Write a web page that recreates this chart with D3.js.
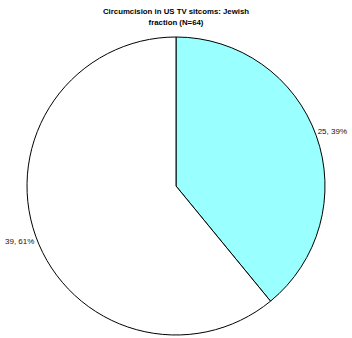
<!DOCTYPE html>
<html><head><meta charset="utf-8">
<script src="https://cdn.jsdelivr.net/npm/d3@7"></script>
<style>body{margin:0;background:#fff}svg{display:block}</style>
</head><body>
<script>
const categories = ["Jewish", "Non-Jewish"];
const values = [25, 39];
const labels = ["25, 39%", "39, 61%"];
const colors = ["#99ffff", "#ffffff"];
const titleLines = ["Circumcision in US TV sitcoms: Jewish", "fraction (N=64)"];

const W = 352, H = 338, cx = 176, cy = 186, R = 149;
const svg = d3.select("body").append("svg").attr("width", W).attr("height", H);

svg.selectAll("text.title").data(titleLines).join("text")
  .attr("class", "title")
  .attr("x", cx).attr("y", (d, i) => 14 + i * 11)
  .attr("text-anchor", "middle")
  .style("font-family", "Liberation Sans, Arial, sans-serif")
  .style("font-size", "7.8px").style("font-weight", "bold")
  .text(d => d);

const pie = d3.pie().sort(null).value(d => d)(values);
const arc = d3.arc().innerRadius(0).outerRadius(R);
const g = svg.append("g").attr("transform", `translate(${cx},${cy})`);
g.selectAll("path").data(pie).join("path")
  .attr("d", arc)
  .attr("fill", (d, i) => colors[i])
  .attr("stroke", "#000").attr("stroke-width", 1);

const labArc = d3.arc().innerRadius(R * 1.1).outerRadius(R * 1.1);
g.selectAll("text").data(pie).join("text")
  .attr("transform", (d, i) => { const c = labArc.centroid(d); return `translate(${c[0] + (i === 0 ? 2 : -2)},${c[1]})`; })
  .attr("text-anchor", "middle").attr("dy", "0.35em")
  .style("font-family", "Liberation Sans, Arial, sans-serif")
  .style("font-size", "8px").attr("fill", "#111")
  .text((d, i) => labels[i]);
</script>
</body></html>
